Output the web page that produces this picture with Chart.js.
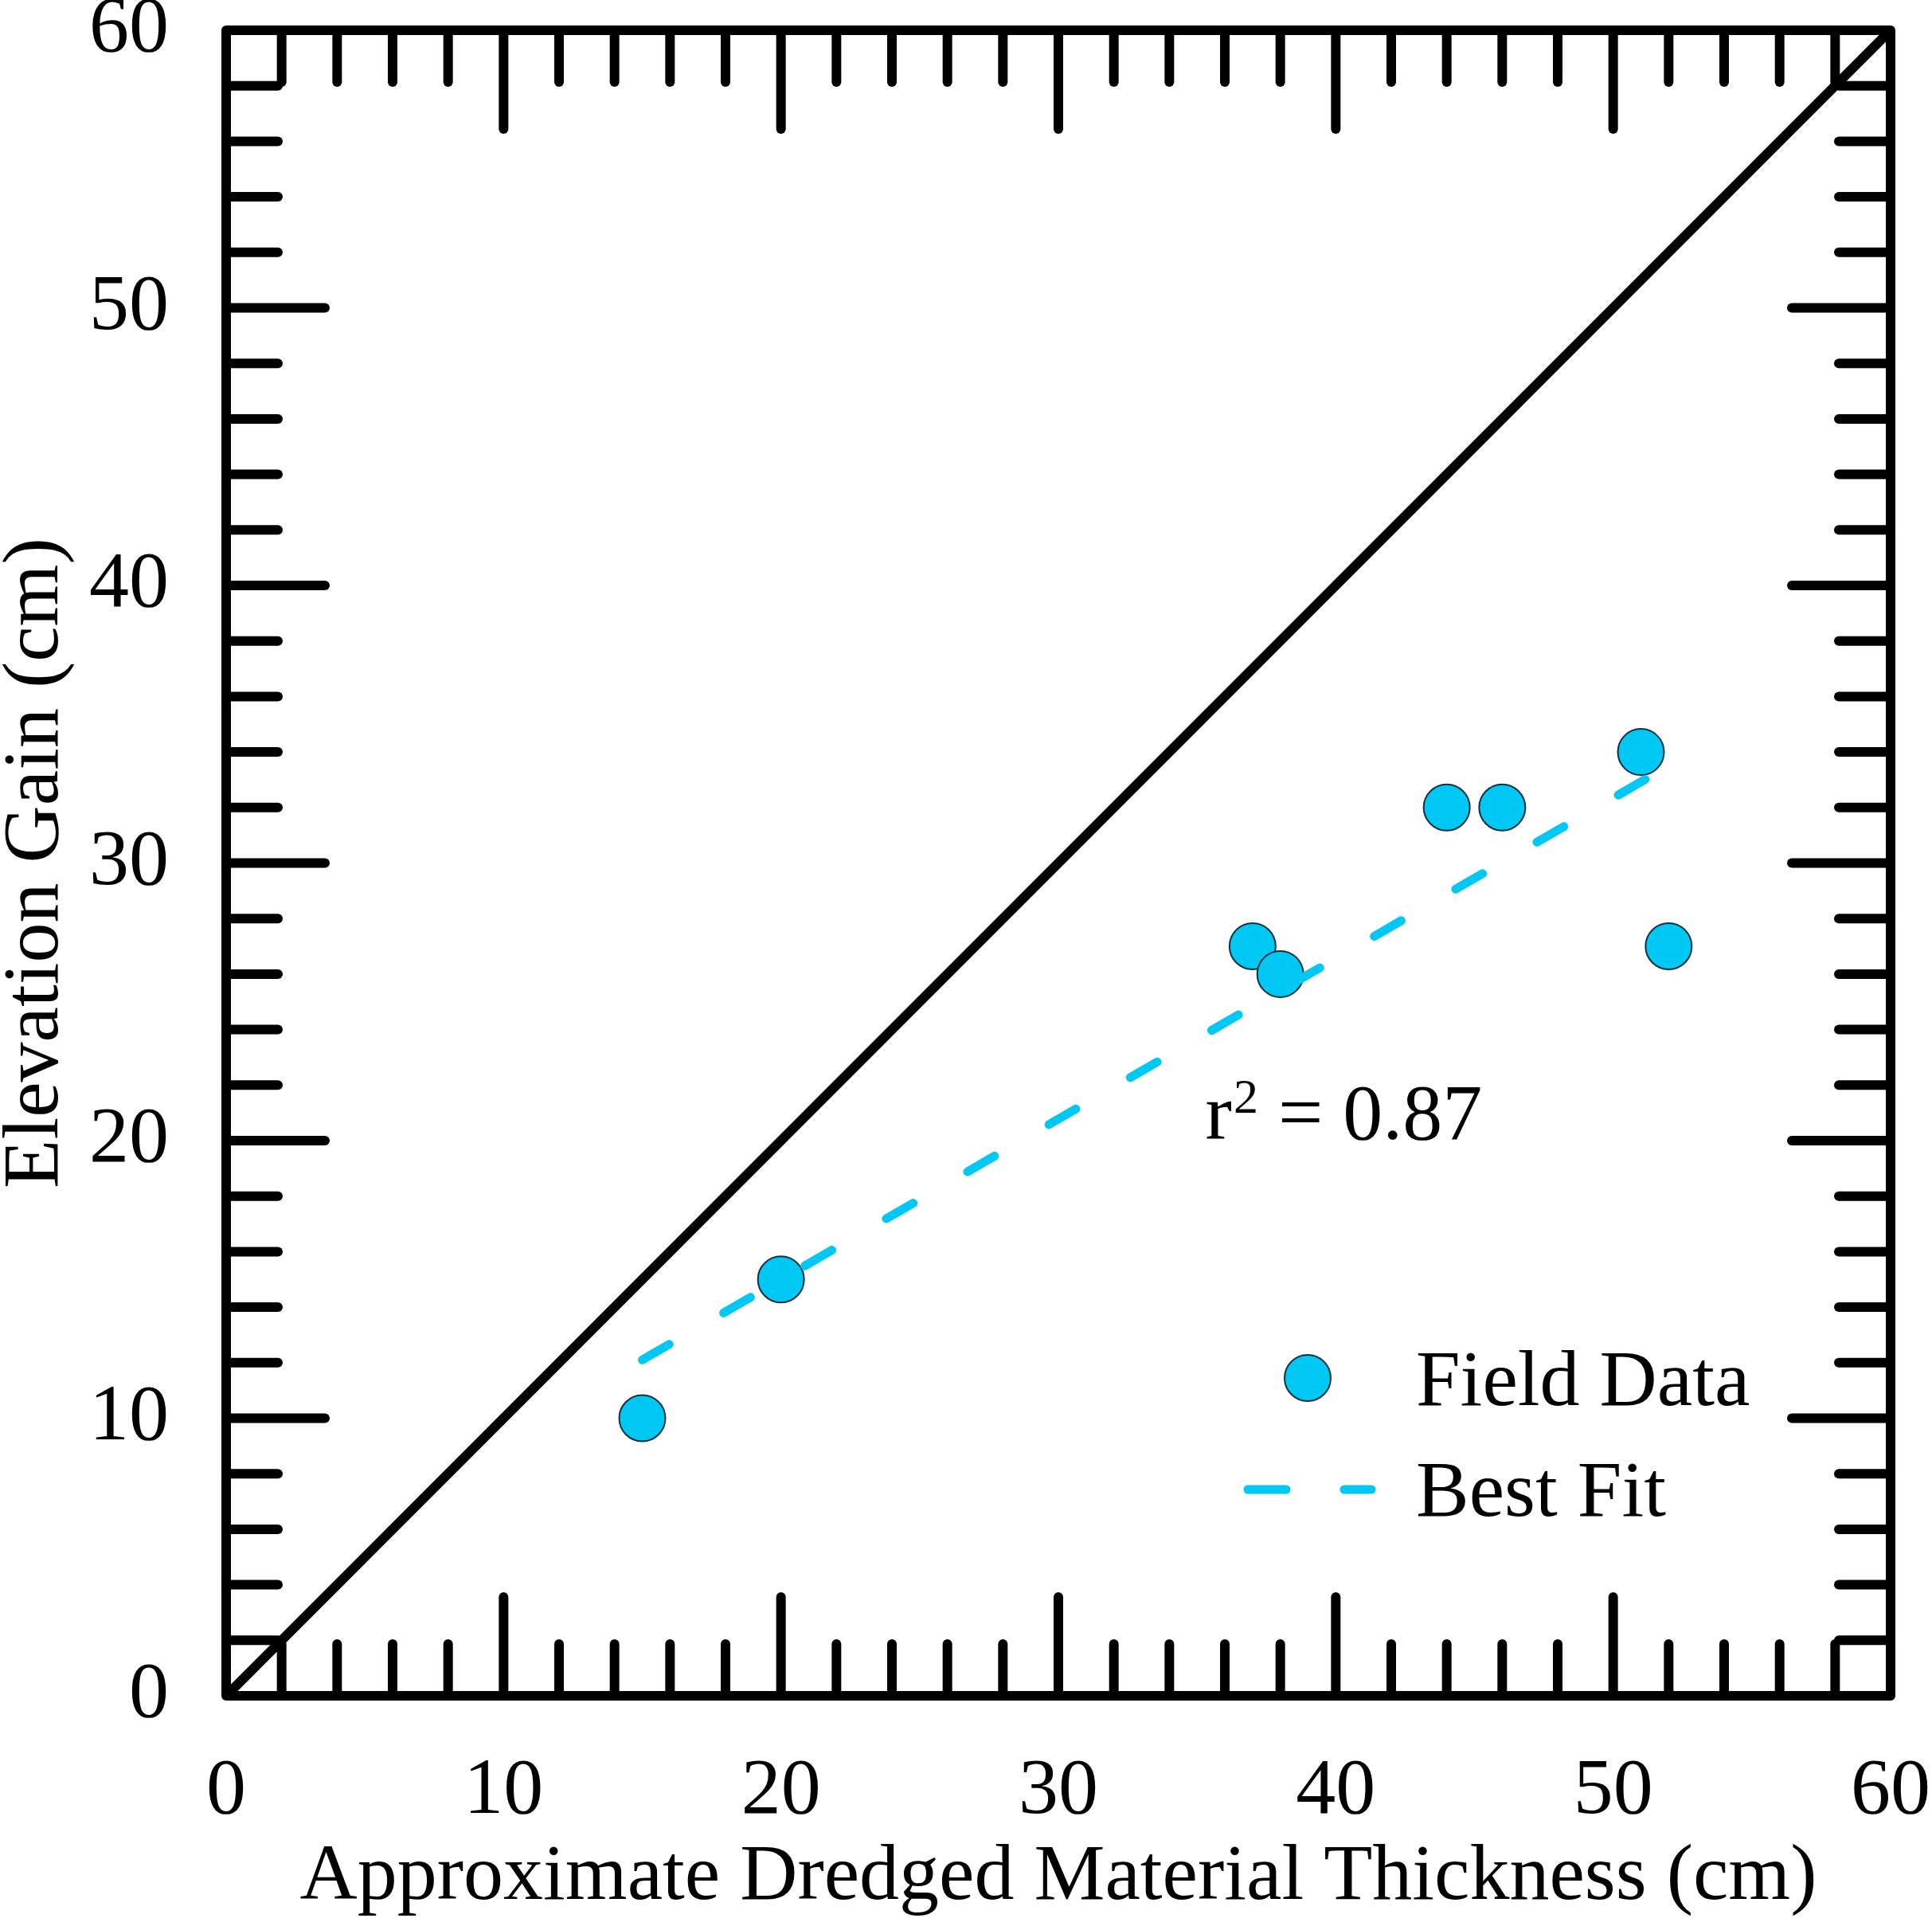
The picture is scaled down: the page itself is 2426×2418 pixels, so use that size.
<!DOCTYPE html>
<html>
<head>
<meta charset="utf-8">
<script src="https://cdn.jsdelivr.net/npm/chart.js@4.4.1/dist/chart.umd.min.js"></script>
<style>
  html, body { margin: 0; padding: 0; background: #fff; }
  canvas { display: block; }
</style>
</head>
<body>
<canvas id="gainChart" width="2426" height="2418"></canvas>
<script>
// Field measurements (cm)
const thickness = [15, 20, 37, 38, 44, 46, 51, 52];
const elevationGain = [10, 15, 27, 26, 32, 32, 34, 27];

// Best-fit line end points
const fitX = [15, 52];
const fitY = [12.1, 33.5];

// 1:1 line
const oneToOneX = [0, 60];
const oneToOneY = [0, 60];

// Axis tick labels
const tickValues = [0, 10, 20, 30, 40, 50, 60];

const cyan = '#00C8F4';
const font = 'Liberation Serif, Times New Roman, serif';

function toPoints(xs, ys) {
  return xs.map(function(v, i) { return { x: v, y: ys[i] }; });
}

// keep the label overhang from shrinking the plot area
function noEdgePadding(scale) {
  scale.paddingTop = 0;
  scale.paddingBottom = 0;
  scale.paddingLeft = 0;
  scale.paddingRight = 0;
}

// Frame with inward ticks on all four sides
const frameTicks = {
  id: 'frameTicks',
  afterDatasetsDraw(chart) {
    const { ctx, chartArea: a, scales: { x, y } } = chart;
    ctx.save();
    ctx.strokeStyle = '#000';
    ctx.lineWidth = 12;
    ctx.lineCap = 'round';
    function seg(x1, y1, x2, y2) {
      ctx.beginPath();
      ctx.moveTo(x1, y1);
      ctx.lineTo(x2, y2);
      ctx.stroke();
    }
    for (let v = 2; v < 60; v += 2) {
      const len = v % 10 === 0 ? 124 : 65;
      const px = x.getPixelForValue(v);
      const py = y.getPixelForValue(v);
      seg(px, a.bottom, px, a.bottom - len);
      seg(px, a.top, px, a.top + len);
      seg(a.left, py, a.left + len, py);
      seg(a.right, py, a.right - len, py);
    }
    ctx.lineJoin = 'round';
    ctx.strokeRect(a.left, a.top, a.right - a.left, a.bottom - a.top);
    ctx.restore();
  }
};

// r² note and the legend inside the plot
const notes = {
  id: 'notes',
  afterDraw(chart) {
    const { ctx, chartArea: a, scales: { x, y } } = chart;
    ctx.save();
    ctx.fillStyle = '#000';
    ctx.textBaseline = 'alphabetic';
    ctx.textAlign = 'left';

    // r² = 0.87
    let tx = x.getPixelForValue(35.3);
    const ty = y.getPixelForValue(20.07);
    ctx.font = '100px ' + font;
    ctx.fillText('r', tx, ty);
    tx += ctx.measureText('r').width + 2;
    ctx.font = '62px ' + font;
    ctx.fillText('2', tx, ty - 33);
    tx += ctx.measureText('2').width;
    ctx.font = '100px ' + font;
    ctx.fillText(' = 0.87', tx, ty);

    // legend
    const lx = a.left + 1358;
    const ly = a.top + 1692;
    const field = chart.data.datasets[1];
    ctx.beginPath();
    ctx.arc(lx, ly, 29, 0, Math.PI * 2);
    ctx.fillStyle = field.backgroundColor;
    ctx.fill();
    ctx.lineWidth = field.borderWidth;
    ctx.strokeStyle = field.borderColor;
    ctx.stroke();

    const fit = chart.data.datasets[2];
    ctx.beginPath();
    ctx.setLineDash([48, 73]);
    ctx.lineCap = 'round';
    ctx.lineWidth = fit.borderWidth;
    ctx.strokeStyle = fit.borderColor;
    ctx.moveTo(lx - 75, ly + 140);
    ctx.lineTo(lx + 80, ly + 140);
    ctx.stroke();
    ctx.setLineDash([]);

    ctx.fillStyle = '#000';
    ctx.font = '100px ' + font;
    ctx.fillText(field.label, lx + 136, ly + 34);
    ctx.fillText(fit.label, lx + 136, ly + 173);
    ctx.restore();
  }
};

new Chart(document.getElementById('gainChart').getContext('2d'), {
  type: 'scatter',
  data: {
    datasets: [
      {
        label: '1:1',
        data: toPoints(oneToOneX, oneToOneY),
        showLine: true,
        borderColor: '#000',
        borderWidth: 12,
        pointRadius: 0,
        order: 3
      },
      {
        label: 'Field Data',
        data: toPoints(thickness, elevationGain),
        backgroundColor: cyan,
        borderColor: '#12303c',
        borderWidth: 2,
        pointRadius: 29,
        order: 2
      },
      {
        label: 'Best Fit',
        data: toPoints(fitX, fitY),
        showLine: true,
        borderColor: cyan,
        borderWidth: 11,
        borderDash: [39, 79],
        borderCapStyle: 'round',
        pointRadius: 0,
        order: 1
      }
    ]
  },
  options: {
    responsive: false,
    devicePixelRatio: 1,
    animation: false,
    layout: { padding: { top: 38, right: 52, left: 0, bottom: 0 } },
    plugins: {
      legend: { display: false },
      tooltip: { enabled: false }
    },
    scales: {
      x: {
        type: 'linear',
        min: 0,
        max: 60,
        afterBuildTicks: function(scale) {
          scale.ticks = tickValues.map(function(v) { return { value: v }; });
        },
        afterFit: function(scale) {
          scale.height = 289;
          noEdgePadding(scale);
        },
        grid: { display: false },
        border: { display: false },
        ticks: {
          padding: 53,
          maxRotation: 0,
          color: '#000',
          font: { family: font, size: 100 }
        },
        title: {
          display: true,
          text: 'Approximate Dredged Material Thickness (cm)',
          color: '#000',
          font: { family: font, size: 100, lineHeight: 1.2 },
          padding: { top: 0, bottom: 0 }
        }
      },
      y: {
        type: 'linear',
        min: 0,
        max: 60,
        afterBuildTicks: function(scale) {
          scale.ticks = tickValues.map(function(v) { return { value: v }; });
        },
        afterFit: function(scale) {
          scale.width = 284;
          noEdgePadding(scale);
        },
        grid: { display: false },
        border: { display: false },
        ticks: {
          padding: 64,
          color: '#000',
          font: { family: font, size: 100 }
        },
        title: {
          display: true,
          text: 'Elevation Gain (cm)',
          color: '#000',
          font: { family: font, size: 100, lineHeight: 0.92 },
          padding: { top: 0, bottom: 0 }
        }
      }
    }
  },
  plugins: [frameTicks, notes]
});
</script>
</body>
</html>
